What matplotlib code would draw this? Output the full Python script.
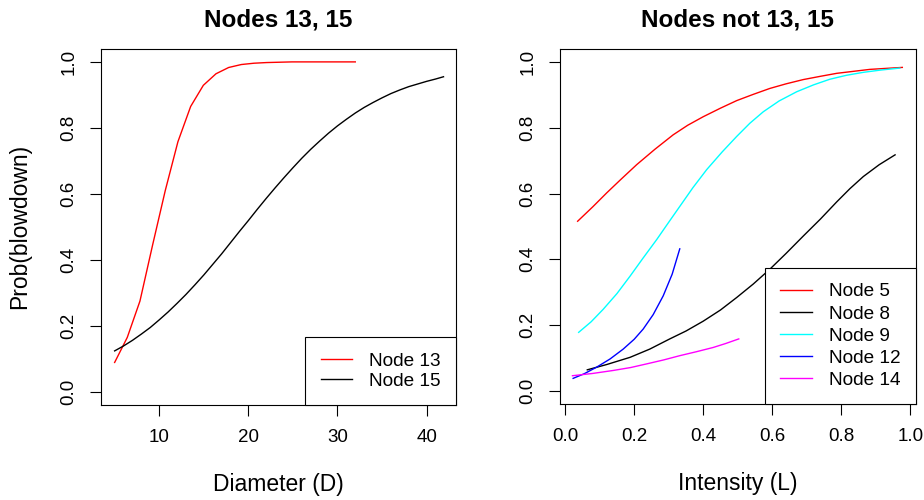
import matplotlib
matplotlib.use("Agg")
import matplotlib.pyplot as plt

plt.rcParams['font.family'] = ['Liberation Sans', 'DejaVu Sans']

# Nodes 13 and 15: probability of blowdown against tree diameter
d13 = [5.0, 6.42, 7.84, 9.26, 10.68, 12.1, 13.53, 14.95, 16.37, 17.79,
       19.21, 20.63, 22.05, 23.47, 24.89, 26.32, 27.74, 29.16, 30.58, 32.0]
p13 = [0.089, 0.165, 0.275, 0.445, 0.61, 0.758, 0.865, 0.929, 0.964, 0.983,
       0.992, 0.996, 0.998, 0.999, 1.0, 1.0, 1.0, 1.0, 1.0, 1.0]

d15 = [5, 6, 7, 8, 9, 10, 11, 12, 13, 14, 15, 16, 17, 18, 19, 20, 21, 22, 23, 24,
       25, 26, 27, 28, 29, 30, 31, 32, 33, 34, 35, 36, 37, 38, 39, 40, 41, 41.9]
p15 = [0.124, 0.139, 0.156, 0.175, 0.195, 0.218, 0.242, 0.268, 0.295, 0.324,
       0.354, 0.386, 0.418, 0.452, 0.486, 0.519, 0.553, 0.586, 0.618, 0.649,
       0.679, 0.708, 0.735, 0.760, 0.784, 0.806, 0.826, 0.845, 0.862, 0.877,
       0.891, 0.904, 0.915, 0.925, 0.933, 0.941, 0.948, 0.955]

# Other nodes: probability of blowdown against storm intensity
l5 = [0.036, 0.08, 0.12, 0.16, 0.207, 0.26, 0.313, 0.355, 0.40, 0.45, 0.497,
      0.545, 0.593, 0.64, 0.69, 0.74, 0.787, 0.835, 0.883, 0.93, 0.977]
p5 = [0.516, 0.56, 0.602, 0.642, 0.688, 0.735, 0.779, 0.808, 0.834, 0.86, 0.883,
      0.902, 0.92, 0.934, 0.947, 0.957, 0.966, 0.972, 0.978, 0.981, 0.984]

l8 = [0.064, 0.12, 0.188, 0.245, 0.303, 0.35, 0.40, 0.45, 0.497, 0.545, 0.593,
      0.64, 0.69, 0.74, 0.787, 0.825, 0.864, 0.91, 0.956]
p8 = [0.064, 0.08, 0.102, 0.127, 0.158, 0.182, 0.212, 0.246, 0.284, 0.325, 0.37,
      0.418, 0.471, 0.523, 0.575, 0.615, 0.652, 0.688, 0.718]

l9 = [0.039, 0.075, 0.11, 0.15, 0.188, 0.225, 0.265, 0.30, 0.332, 0.37, 0.41,
      0.455, 0.497, 0.535, 0.574, 0.62, 0.671, 0.72, 0.767, 0.815, 0.864, 0.915, 0.97]
p9 = [0.178, 0.21, 0.248, 0.296, 0.349, 0.403, 0.46, 0.513, 0.561, 0.618, 0.673,
      0.727, 0.774, 0.814, 0.849, 0.882, 0.91, 0.931, 0.948, 0.96, 0.969, 0.976, 0.982]

l12 = [0.023, 0.055, 0.091, 0.13, 0.168, 0.20, 0.226, 0.255, 0.284, 0.31, 0.332]
p12 = [0.038, 0.052, 0.072, 0.097, 0.127, 0.157, 0.188, 0.232, 0.289, 0.355, 0.432]

l14 = [0.021, 0.08, 0.139, 0.19, 0.236, 0.285, 0.332, 0.38, 0.429, 0.465, 0.503]
p14 = [0.046, 0.053, 0.062, 0.071, 0.082, 0.094, 0.107, 0.119, 0.132, 0.144, 0.158]

yticks = [0.0, 0.2, 0.4, 0.6, 0.8, 1.0]

fig = plt.figure(figsize=(9.24, 5), dpi=100)
ax1 = fig.add_axes([0.1096, 0.19, 0.3839, 0.7126])
ax2 = fig.add_axes([0.6061, 0.192, 0.3850, 0.710])

ax1.plot(d13, p13, color='red', lw=1.0, label='Node 13')
ax1.plot(d15, p15, color='black', lw=1.0, label='Node 15')
ax1.set_xlim(3.5, 43.3)
ax1.set_xticks([10, 20, 30, 40])

ax2.plot(l5, p5, color='red', lw=1.0, label='Node 5')
ax2.plot(l8, p8, color='black', lw=1.0, label='Node 8')
ax2.plot(l9, p9, color='cyan', lw=1.0, label='Node 9')
ax2.plot(l12, p12, color='blue', lw=1.0, label='Node 12')
ax2.plot(l14, p14, color='magenta', lw=1.0, label='Node 14')
ax2.set_xlim(-0.015, 1.016)
ax2.set_xticks([0.0, 0.2, 0.4, 0.6, 0.8, 1.0])
ax2.set_xticklabels(['0.0', '0.2', '0.4', '0.6', '0.8', '1.0'])

for ax, title, xlab, spacing in [(ax1, 'Nodes 13, 15', 'Diameter (D)', 0.15),
                                 (ax2, 'Nodes not 13, 15', 'Intensity (L)', 0.25)]:
    ax.set_ylim(-0.04, 1.04)
    ax.set_yticks(yticks)
    ax.set_yticklabels(['%.1f' % v for v in yticks], rotation=90, va='center')
    ax.tick_params(axis='both', direction='out', length=8, width=0.8,
                   labelsize=13.5, color='black')
    ax.tick_params(axis='x', pad=9)
    ax.tick_params(axis='y', pad=9)
    for s in ax.spines.values():
        s.set_linewidth(0.8)
    ax.set_title(title, fontsize=17.5, fontweight='bold', pad=16)
    ax.set_xlabel(xlab, fontsize=16.5, labelpad=20)
    leg = ax.legend(loc='lower right', borderaxespad=0, fancybox=False,
                    edgecolor='black', framealpha=1, fontsize=13.7,
                    handlelength=1.65, handletextpad=0.9, borderpad=0.8,
                    labelspacing=spacing)
    leg.get_frame().set_linewidth(0.8)

ax1.set_ylabel('Prob(blowdown)', fontsize=16.5, labelpad=21)

fig.savefig('out.png', dpi=100)
